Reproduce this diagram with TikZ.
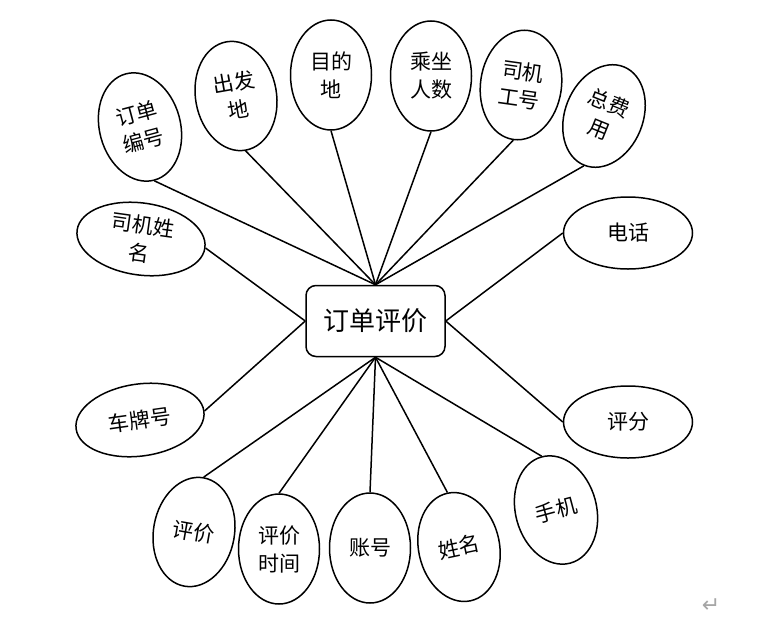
\documentclass[tikz,border=0pt]{standalone}
\usepackage{fontspec}
\newfontfamily\cjk{Noto Sans CJK SC}
\newfontfamily\symfont{DejaVu Sans}
\usetikzlibrary{shapes.geometric}
\begin{document}
\begin{tikzpicture}[x=1pt, y=-1pt,
  attr/.style={draw, ellipse, line width=1.5pt, inner sep=0pt, align=center,
    font=\cjk\fontsize{21}{28}\selectfont},
  tall/.style={attr, minimum width=81pt, minimum height=110pt},
  wide/.style={attr, minimum width=129pt, minimum height=72pt},
  link/.style={line width=1.5pt}]
  \useasboundingbox (0,0) rectangle (759,621);

  \node[draw, rounded corners=10pt, line width=1.5pt, minimum width=139pt, minimum height=71pt,
    font=\cjk\fontsize{26}{30}\selectfont] (A) at (375.5,321) {订单评价};

  \node[tall, rotate=15] (B) at (140,127) {订单\\编号};
  \node[tall, rotate=10] (C) at (236,96) {出发\\地};
  \node[tall] (D) at (331,75) {目的\\地};
  \node[tall] (E) at (431,76) {乘坐\\人数};
  \node[tall, rotate=-8] (F) at (521,85) {司机\\工号};
  \node[tall, minimum width=78pt, minimum height=106pt, rotate=-22] (G) at (604,116) {总费\\用};

  \node[wide] (H) at (628,233) {电话};
  \node[wide] (I) at (628,422) {评分};

  \node[tall, rotate=15] (J) at (556,510) {手机};
  \node[tall, rotate=12] (K) at (459,547) {姓名};
  \node[tall] (L) at (370,548) {账号};
  \node[tall] (M) at (279,549) {评价\\时间};
  \node[tall, rotate=-10] (N) at (194,532) {评价};

  \node[wide, rotate=8] (O) at (140,420) {车牌号};
  \node[wide, rotate=-8] (P) at (141,239) {司机姓\\名};

  \draw[link] (B.south) -- (A.north);
  \draw[link] (C.south) -- (A.north);
  \draw[link] (D.south) -- (A.north);
  \draw[link] (E.south) -- (A.north);
  \draw[link] (F.south) -- (A.north);
  \draw[link] (G.south) -- (A.north);

  \draw[link] (H.west) -- (A.east);
  \draw[link] (I.west) -- (A.east);
  \draw[link] (O.east) -- (A.west);
  \draw[link] (P.east) -- (A.west);

  \draw[link] (J.north) -- (A.south);
  \draw[link] (K.north) -- (A.south);
  \draw[link] (L.north) -- (A.south);
  \draw[link] (M.north) -- (A.south);
  \draw[link] (N.north) -- (A.south);

  \node[text=gray!70, font=\symfont\fontsize{22}{22}\selectfont] (Q) at (711,606) {↵};
\end{tikzpicture}
\end{document}
